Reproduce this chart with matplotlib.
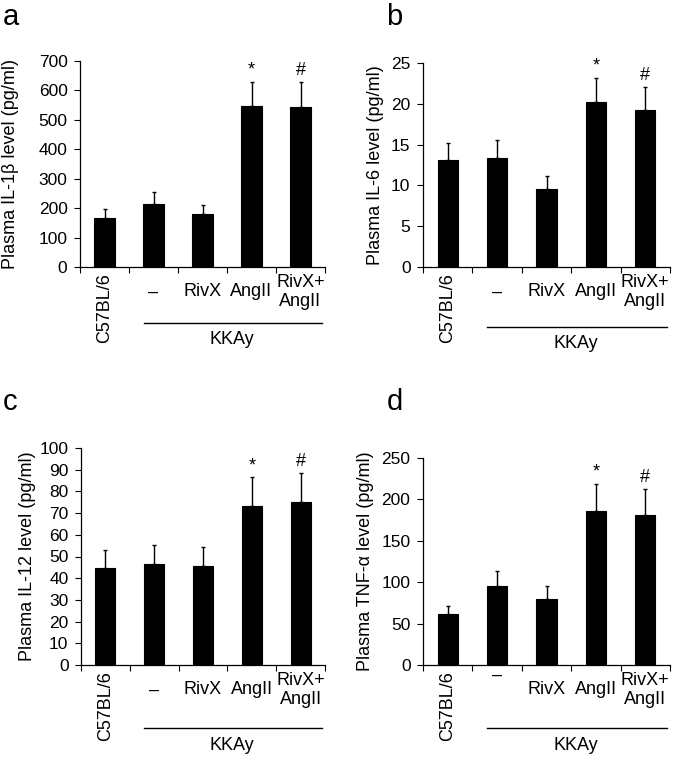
import matplotlib
matplotlib.use("Agg")
import matplotlib.pyplot as plt
from matplotlib.transforms import offset_copy

plt.rcParams["font.family"] = ["Liberation Sans", "DejaVu Sans"]

# group order: C57BL/6, KKAy -, KKAy RivX, KKAy AngII, KKAy RivX+AngII
groups = ["C57BL/6", "\u2013", "RivX", "AngII", "RivX+\nAngII"]
marks = ["", "", "", "*", "#"]

il1b_mean = [167, 213, 179, 547, 544]
il1b_err = [31, 41, 31, 83, 86]

il6_mean = [13.1, 13.3, 9.6, 20.2, 19.3]
il6_err = [2.1, 2.3, 1.6, 3.0, 2.8]

il12_mean = [44.5, 46.6, 45.7, 73.4, 74.9]
il12_err = [8.5, 8.8, 8.5, 13.1, 13.7]

tnf_mean = [61, 95, 80, 186, 181]
tnf_err = [10, 19, 15, 33, 32]

W, H = 675, 759

# letter, ylabel, data, ymax, step, axes box in pixels (left, top, right, bottom),
# ylabel centre x (px), bracket offset (px), dash offset (px)
panels = [
    ("a", "Plasma IL-1\u03b2 level (pg/ml)", il1b_mean, il1b_err, 700, 100,
     (80, 61, 325, 267), 11, 56, 0),
    ("b", "Plasma IL-6 level (pg/ml)", il6_mean, il6_err, 25, 5,
     (423, 63, 670, 267), 375, 60, 0),
    ("c", "Plasma IL-12 level (pg/ml)", il12_mean, il12_err, 100, 10,
     (81, 448, 325, 665), 28, 63, 0),
    ("d", "Plasma TNF-\u03b1 level (pg/ml)", tnf_mean, tnf_err, 250, 50,
     (423, 458, 670, 665), 366, 63, 15),
]
letter_pos = [(3, 3), (386, 3), (3, 388), (387, 388)]

FS = 13


def draw_panel(fig, ylabel, mean, err, ymax, ystep, box, ylab_x, brk, dash_up):
    l, t, r, b = box
    ax = fig.add_axes([l / W, 1 - b / H, (r - l) / W, (b - t) / H])
    x = list(range(len(mean)))
    ax.bar(x, mean, width=0.41, color="black", edgecolor="black", linewidth=0.8)
    ax.errorbar(x, mean, yerr=[[0] * len(err), err], fmt="none",
                ecolor="black", elinewidth=1, capsize=1.5, capthick=1)
    for i, m in enumerate(marks):
        if m:
            ax.annotate(m, (x[i], mean[i] + err[i]), xytext=(0, 2),
                        textcoords="offset points", ha="center", va="bottom",
                        fontsize=FS)
    ax.set_xlim(-0.5, len(mean) - 0.5)
    ax.set_ylim(0, ymax)
    ax.set_yticks(range(0, ymax + 1, ystep))
    ax.set_xticks([])
    ax.set_xticks([i - 0.5 for i in x] + [len(x) - 0.5], minor=True)
    ax.tick_params(axis="x", which="minor", direction="out", length=4, width=0.8)
    ax.tick_params(axis="y", direction="out", length=4, width=0.8,
                   labelsize=12.5, pad=5)
    for s in ["top", "right"]:
        ax.spines[s].set_visible(False)
    for s in ["left", "bottom"]:
        ax.spines[s].set_linewidth(0.9)
    ax.set_ylabel(ylabel, fontsize=FS, va="center")
    ax.yaxis.set_label_coords((ylab_x - l) / (r - l), 0.5)

    # category labels below the axis
    tr = ax.get_xaxis_transform()
    ax.text(0, 0, groups[0], rotation=90, ha="center", va="top", fontsize=FS,
            transform=offset_copy(tr, fig=fig, y=-6, units="dots"))
    for i in range(1, len(groups)):
        dy = -25 + (dash_up if i == 1 else 0)
        ax.text(x[i], 0, groups[i], ha="center", va="center", fontsize=FS,
                linespacing=1.15,
                transform=offset_copy(tr, fig=fig, y=dy, units="dots"))
    # KKAy bracket line
    ax.plot([0.8, 4.43], [0, 0], color="black", lw=1, clip_on=False,
            transform=offset_copy(tr, fig=fig, y=-brk, units="dots"))
    ax.text(2.6, 0, "KKAy", ha="center", va="center", fontsize=FS,
            transform=offset_copy(tr, fig=fig, y=-brk - 17, units="dots"))
    return ax


fig = plt.figure(figsize=(W / 100, H / 100), dpi=100)
for (letter, ylabel, mean, err, ymax, ystep, box, ylab_x, brk, dash_up), (lx, ly) in zip(panels, letter_pos):
    draw_panel(fig, ylabel, mean, err, ymax, ystep, box, ylab_x, brk, dash_up)
    fig.text(lx / W, 1 - ly / H, letter, fontsize=21, ha="left", va="top")

fig.savefig("out.png", dpi=100)
